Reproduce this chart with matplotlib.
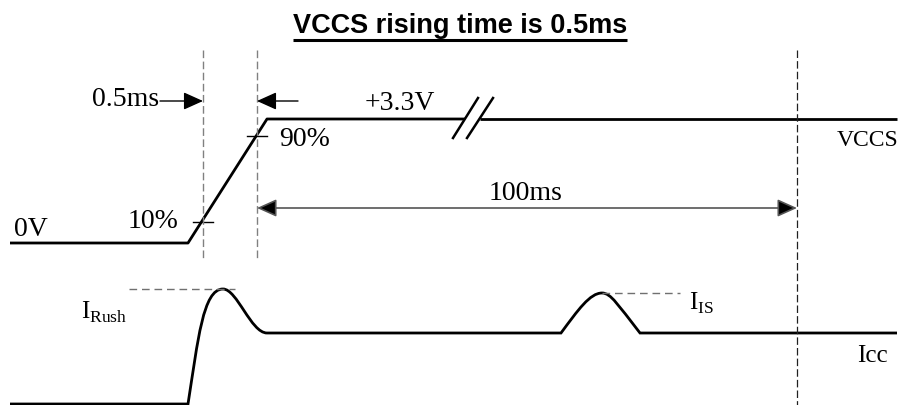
import numpy as np
import matplotlib.pyplot as plt
from matplotlib.path import Path
from matplotlib.patches import PathPatch

plt.rcParams['mathtext.fontset'] = 'custom'
plt.rcParams['mathtext.rm'] = 'Liberation Serif'

# =========================================================
# DIAGRAM DATA (canvas units, y grows downward)
# =========================================================
title = "VCCS rising time is 0.5ms"

# VCCS waveform, split at the "//" break
vccs_x1 = [10, 188, 267, 465]
vccs_y1 = [243, 243, 119, 119]
vccs_x2 = [480, 897]
vccs_y2 = [119, 119]

# break marks "//"
break_x = [[453, 478], [467, 493]]
break_y = [[138, 98], [138, 98]]

# 10% / 90% ticks on the ramp
tick_x = [203, 257]
tick_y = [222, 136]
tick_half = 10

# dashed markers
guide_x = [203, 257]
guide_top, guide_bot = 50, 258
end_x = 797
end_top, end_bot = 50, 405

# Icc waveform (line + bezier segments)
icc_verts = [(10, 404), (188, 404),
             (198, 340), (203, 289), (223, 289),
             (237, 289), (251, 333), (267, 333),
             (561, 333),
             (578, 310), (590, 293), (602, 293),
             (611, 293), (618, 305), (640, 333),
             (897, 333)]
icc_codes = [Path.MOVETO, Path.LINETO,
             Path.CURVE4, Path.CURVE4, Path.CURVE4,
             Path.CURVE4, Path.CURVE4, Path.CURVE4,
             Path.LINETO,
             Path.CURVE4, Path.CURVE4, Path.CURVE4,
             Path.CURVE4, Path.CURVE4, Path.CURVE4,
             Path.LINETO]

# peak reference lines
rush_x = [129, 235]
rush_y = 289
is_x = [602, 680]
is_y = 293

# arrows
arrow_y = 101
arrow_05_x = [160, 203]
arrow_back_x = [298, 257]
span_y = 208
span_x = [257, 797]

# labels: (text, x, y, ha, size)
labels = [
    ("0.5ms", 159, 100, "right", 20),
    ("+3.3V", 400, 104, "center", 20),
    ("90%", 279, 139, "left", 20),
    ("10%", 178, 222, "right", 20),
    ("0V", 14, 230, "left", 20),
    ("VCCS", 898, 140, "right", 17),
    ("100ms", 526, 193, "center", 20),
    (r"$\mathrm{I}_{\mathrm{Rush}}$", 81, 312, "left", 18),
    (r"$\mathrm{I}_{\mathrm{IS}}$", 689, 303, "left", 18),
    ("Icc", 888, 356, "right", 18),
]

# =========================================================
# PLOT
# =========================================================
fig = plt.figure(figsize=(9.12, 4.05), dpi=100)
ax = fig.add_axes([0, 0, 1, 1])
ax.set_xlim(0, 912)
ax.set_ylim(405, 0)
ax.axis("off")

wave = dict(color="black", lw=2.0, solid_capstyle="butt")

ax.plot(vccs_x1, vccs_y1, **wave)
ax.plot(vccs_x2, vccs_y2, **wave)
for bx, by in zip(break_x, break_y):
    ax.plot(bx, by, color="black", lw=1.8)

for tx, ty in zip(tick_x, tick_y):
    ax.plot([tx - tick_half, tx + tick_half], [ty, ty], color="black", lw=1.0)

for gx in guide_x:
    ax.plot([gx, gx], [guide_top, guide_bot], color="#808080", lw=1.0,
            linestyle=(0, (5.5, 2.5)))
ax.plot([end_x, end_x], [end_top, end_bot], color="#202020", lw=0.9,
        linestyle=(0, (6.0, 2.5)))

ax.add_patch(PathPatch(Path(icc_verts, icc_codes), fill=False,
                       edgecolor="black", lw=2.0))

ax.plot(rush_x, [rush_y, rush_y], color="#707070", lw=1.0,
        linestyle=(0, (5.5, 3.5)))
ax.plot(is_x, [is_y, is_y], color="#707070", lw=1.0,
        linestyle=(0, (5.5, 3.5)))

head = dict(arrowstyle="-|>,head_length=1.0,head_width=0.45",
            color="black", lw=1.0, shrinkA=0, shrinkB=0, mutation_scale=12)
ax.annotate("", xy=(arrow_05_x[1], arrow_y), xytext=(arrow_05_x[0], arrow_y),
            arrowprops=head)
ax.annotate("", xy=(arrow_back_x[1], arrow_y), xytext=(arrow_back_x[0], arrow_y),
            arrowprops=head)
span = dict(arrowstyle="<|-|>,head_length=1.0,head_width=0.45",
            color="#555555", lw=1.2, shrinkA=0, shrinkB=0, mutation_scale=12)
arr = ax.annotate("", xy=(span_x[1], span_y), xytext=(span_x[0], span_y),
                  arrowprops=span)
arr.arrow_patch.set_facecolor("black")

for txt, x, y, ha, size in labels:
    ax.text(x, y, txt, ha=ha, va="center", fontsize=size,
            family="Liberation Serif")

t = ax.text(460, 33, title, ha="center", va="baseline", fontsize=19.5,
            family="Liberation Sans", fontweight="bold")

# underline the title
fig.canvas.draw()
bb = t.get_window_extent().transformed(ax.transData.inverted())
ax.plot([bb.x0, bb.x1], [40, 40], color="black", lw=2.2,
        solid_capstyle="butt")

plt.savefig("out.png", dpi=100)
plt.close()
